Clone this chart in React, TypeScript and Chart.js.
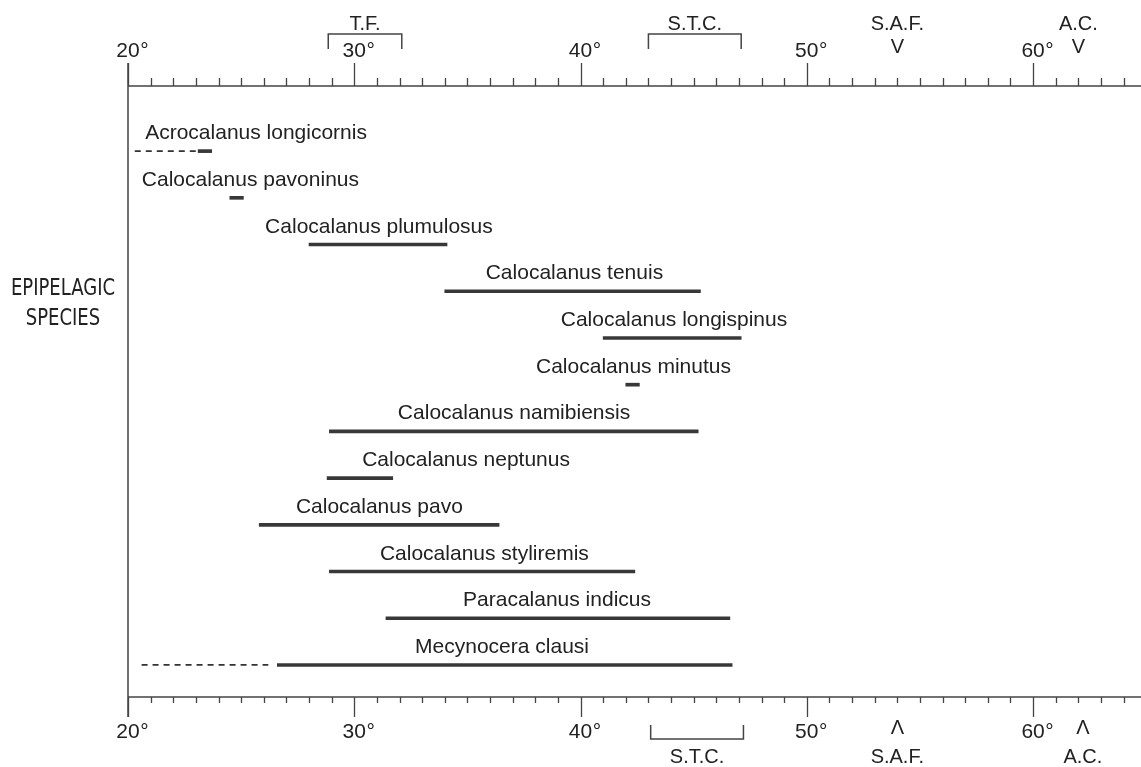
import React, { useEffect, useRef } from "react";
import { Chart, registerables } from "chart.js";

Chart.register(...registerables);

// ---- Data (latitude, degrees S) ----
const species = [
  "Acrocalanus longicornis",
  "Calocalanus pavoninus",
  "Calocalanus plumulosus",
  "Calocalanus tenuis",
  "Calocalanus longispinus",
  "Calocalanus minutus",
  "Calocalanus namibiensis",
  "Calocalanus neptunus",
  "Calocalanus pavo",
  "Calocalanus styliremis",
  "Paracalanus indicus",
  "Mecynocera clausi",
];
const rangeStart = [23.1, 24.5, 28.0, 34.0, 41.0, 42.0, 28.9, 28.8, 25.8, 28.9, 31.4, 26.6];
const rangeEnd = [23.7, 25.1, 34.1, 45.3, 47.1, 42.6, 45.2, 31.7, 36.4, 42.4, 46.6, 46.7];
// dashed (uncertain) extensions
const dashedRows = [0, 11];
const dashedFrom = [20.3, 20.6];
const dashedTo = [23.0, 26.2];
// latitude at which each species name is centred
const labelAt = [25.66, 25.41, 31.09, 39.73, 44.13, 42.34, 37.06, 34.94, 31.11, 35.75, 38.96, 36.53];

const xMin = 20;
const xMax = 64.77;
const majorTicks = [20, 30, 40, 50, 60];

// fronts
const topBracketNames = ["T.F.", "S.T.C."];
const topBracketFrom = [28.85, 43.0];
const topBracketTo = [32.1, 47.1];
const bottomBracketNames = ["S.T.C."];
const bottomBracketFrom = [43.1];
const bottomBracketTo = [47.2];
const markerNames = ["S.A.F.", "A.C."];
const topMarkerAt = [54.0, 62.0];
const bottomMarkerAt = [54.0, 62.2];

const INK = "#222";
const LINE = "#444";
const FONT = "'Liberation Sans', Arial, Helvetica, sans-serif";

const drawPlugin = {
  id: "latitudeDecor",
  afterDatasetsDraw(chart: any) {
    const ctx = chart.ctx as CanvasRenderingContext2D;
    const xs = chart.scales.x;
    const ys = chart.scales.y;
    const area = chart.chartArea;
    const px = (v: number) => xs.getPixelForValue(v);
    ctx.save();

    // species names
    ctx.fillStyle = INK;
    ctx.font = `21px ${FONT}`;
    ctx.textAlign = "center";
    ctx.textBaseline = "alphabetic";
    species.forEach((name, i) => {
      ctx.fillText(name, px(labelAt[i]), ys.getPixelForValue(i) - 12);
    });

    // axes lines
    const top = area.top;
    const bottom = area.bottom;
    const x0 = px(xMin);
    ctx.strokeStyle = LINE;
    ctx.lineWidth = 1.5;
    ctx.beginPath();
    ctx.moveTo(x0, top - 23);
    ctx.lineTo(x0, bottom + 20);
    ctx.moveTo(x0, top);
    ctx.lineTo(area.right, top);
    ctx.moveTo(x0, bottom);
    ctx.lineTo(area.right, bottom);
    ctx.stroke();

    // ticks
    ctx.lineWidth = 1.3;
    ctx.beginPath();
    for (let v = Math.ceil(xMin); v <= xMax; v++) {
      const x = Math.round(px(v)) + 0.5;
      const major = v % 10 === 0;
      ctx.moveTo(x, top);
      ctx.lineTo(x, top - (major ? 23 : 8));
      ctx.moveTo(x, bottom);
      ctx.lineTo(x, bottom + (major ? 20 : 6));
    }
    ctx.stroke();

    // tick labels
    ctx.fillStyle = INK;
    ctx.font = `21px ${FONT}`;
    majorTicks.forEach((v) => {
      const x = px(v);
      const s = String(v);
      const w = ctx.measureText(s).width;
      ctx.textAlign = "center";
      ctx.fillText(s, x, top - 29);
      ctx.fillText(s, x, bottom + 41);
      ctx.textAlign = "left";
      ctx.fillText("°", x + w / 2 + 0.5, top - 29);
      ctx.fillText("°", x + w / 2 + 0.5, bottom + 41);
    });

    // fronts – top
    ctx.font = `20px ${FONT}`;
    ctx.textAlign = "center";
    ctx.lineWidth = 1.5;
    topBracketNames.forEach((name, i) => {
      const a = px(topBracketFrom[i]);
      const b = px(topBracketTo[i]);
      ctx.beginPath();
      ctx.moveTo(a, 49);
      ctx.lineTo(a, 34);
      ctx.lineTo(b, 34);
      ctx.lineTo(b, 49);
      ctx.stroke();
      ctx.fillText(name, (a + b) / 2, 30);
    });
    markerNames.forEach((name, i) => {
      const x = px(topMarkerAt[i]);
      ctx.fillText(name, x, 30);
      ctx.fillText("V", x, 53);
    });

    // fronts – bottom
    bottomBracketNames.forEach((name, i) => {
      const a = px(bottomBracketFrom[i]);
      const b = px(bottomBracketTo[i]);
      ctx.beginPath();
      ctx.moveTo(a, 725);
      ctx.lineTo(a, 739);
      ctx.lineTo(b, 739);
      ctx.lineTo(b, 725);
      ctx.stroke();
      ctx.fillText(name, (a + b) / 2, 763);
    });
    markerNames.forEach((name, i) => {
      const x = px(bottomMarkerAt[i]);
      ctx.fillText("Λ", x, 734);
      ctx.fillText(name, x, 763);
    });

    // side label (condensed caps)
    ctx.font = `23px 'Liberation Sans Narrow', 'DejaVu Sans Condensed', ${FONT}`;
    ctx.save();
    ctx.translate(63, 0);
    ctx.scale(0.87, 1);
    ctx.fillText("EPIPELAGIC", 0, 295);
    ctx.fillText("SPECIES", 0, 325);
    ctx.restore();

    ctx.restore();
  },
};

export default function App() {
  const ref = useRef<HTMLCanvasElement>(null);

  useEffect(() => {
    const canvas = ref.current!;
    const datasets: any[] = [
      {
        type: "bar",
        indexAxis: "y",
        data: species.map((_, i) => ({ x: [rangeStart[i], rangeEnd[i]], y: i })),
        backgroundColor: "#383838",
        borderWidth: 0,
        borderSkipped: false,
        barThickness: 3,
      },
    ];
    dashedRows.forEach((row, k) => {
      datasets.push({
        type: "line",
        data: [
          { x: dashedFrom[k], y: row },
          { x: dashedTo[k], y: row },
        ],
        borderColor: "#333",
        borderWidth: 1.8,
        borderDash: [6, 5],
        pointRadius: 0,
        fill: false,
      });
    });

    const chart = new Chart(canvas, {
      type: "bar",
      data: { datasets },
      options: {
        responsive: false,
        animation: false,
        devicePixelRatio: 1,
        layout: { padding: { left: 128, right: 0, top: 86, bottom: 70 } },
        plugins: { legend: { display: false }, tooltip: { enabled: false } },
        scales: {
          x: { type: "linear", display: false, offset: false, min: xMin, max: xMax },
          y: { type: "linear", display: false, offset: false, min: -1.394, max: 11.686, reverse: true },
        },
      },
      plugins: [drawPlugin],
    } as any);
    return () => chart.destroy();
  }, []);

  return (
    <div style={{ position: "fixed", left: 0, top: 0, width: 1141, height: 767, background: "#fff" }}>
      <canvas ref={ref} width={1141} height={767} style={{ width: 1141, height: 767, display: "block" }} />
    </div>
  );
}
